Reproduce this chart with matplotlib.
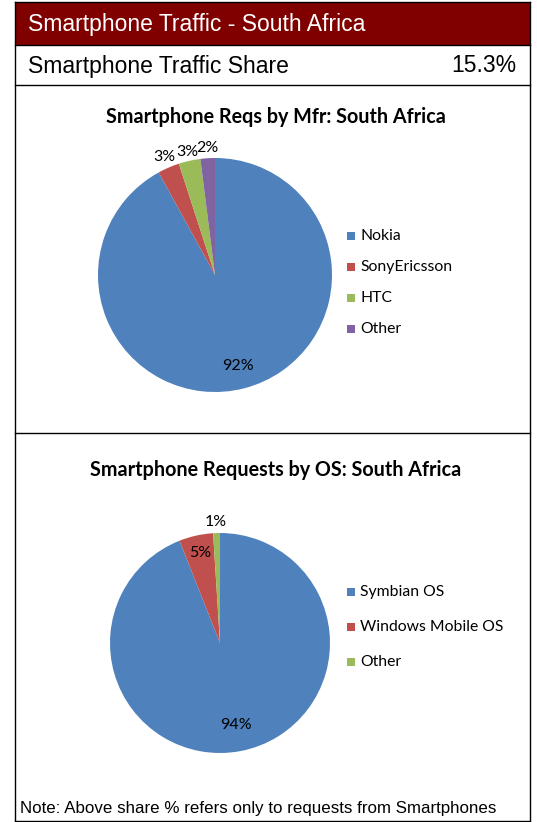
import numpy as np
import matplotlib
matplotlib.use('Agg')
import matplotlib.pyplot as plt
from matplotlib.patches import Rectangle
from matplotlib.lines import Line2D

# 数据
MFR_LABELS = ['Nokia', 'SonyEricsson', 'HTC', 'Other']
MFR_VALUES = [92, 3, 3, 2]
OS_LABELS = ['Symbian OS', 'Windows Mobile OS', 'Other']
OS_VALUES = [94, 5, 1]
TRAFFIC_SHARE = '15.3%'

COLORS = ['#4F81BD', '#C0504D', '#9BBB59', '#8064A2']
W, H = 537, 822


def fx(px):
    return px / W


def fy(py):
    return 1 - py / H


def draw_pie(fig, values, labels, cx, cy, r, label_dist, title, title_y, leg_x, leg_y0, leg_dy):
    ax = fig.add_axes([fx(cx - r), fy(cy + r), 2 * r / W, 2 * r / H])
    wedges, _, autotexts = ax.pie(values, colors=COLORS[:len(values)], startangle=90,
                                  counterclock=False, autopct='%1.0f%%',
                                  wedgeprops=dict(linewidth=0),
                                  textprops=dict(fontsize=11.5, family='Lato', color='black'))
    # 重新放置百分比标签
    for w, t, d in zip(wedges, autotexts, label_dist):
        ang = np.deg2rad((w.theta1 + w.theta2) / 2)
        t.set_position((d * np.cos(ang), d * np.sin(ang)))
    ax.set_xlim(-1, 1)
    ax.set_ylim(-1, 1)
    ax.axis('off')

    fig.text(fx(276), fy(title_y), title, ha='center', va='center',
             fontsize=14.2, fontweight='bold', family='Lato')

    for i, lab in enumerate(labels):
        y = leg_y0 + i * leg_dy
        fig.patches.append(Rectangle((fx(leg_x), fy(y + 4)), 8 / W, 8 / H,
                                     transform=fig.transFigure, facecolor=COLORS[i],
                                     edgecolor='none'))
        fig.text(fx(leg_x + 13), fy(y), lab, ha='left', va='center',
                 fontsize=11.3, family='Lato')


fig = plt.figure(figsize=(W / 100, H / 100), dpi=100)

# 标题栏
fig.patches.append(Rectangle((fx(15), fy(45)), (530 - 15) / W, 43 / H,
                             transform=fig.transFigure, facecolor='#800000', edgecolor='none'))
fig.text(fx(28), fy(24), 'Smartphone Traffic - South Africa', color='white',
         fontsize=16.5, family='Liberation Sans', va='center', ha='left')
fig.text(fx(28), fy(66), 'Smartphone Traffic Share', color='black',
         fontsize=16.5, family='Liberation Sans', va='center', ha='left')
fig.text(fx(516), fy(66), TRAFFIC_SHARE, color='black',
         fontsize=16.5, family='Liberation Sans', va='center', ha='right')

# 边框
lw = 1.0
for (x0, y0, x1, y1) in [(15, 2, 15, 821), (530, 2, 530, 821), (15, 2, 530, 2),
                         (15, 821, 530, 821), (15, 45, 530, 45), (15, 85, 530, 85),
                         (15, 433, 530, 433)]:
    fig.lines.append(Line2D([fx(x0), fx(x1)], [fy(y0), fy(y1)], transform=fig.transFigure,
                            color='black', linewidth=lw))

draw_pie(fig, MFR_VALUES, MFR_LABELS, 215, 275, 117, [0.8, 1.1, 1.08, 1.09],
         'Smartphone Reqs by Mfr: South Africa', 117, 347, 236, 31)
draw_pie(fig, OS_VALUES, OS_LABELS, 220, 643, 110, [0.76, 0.84, 1.1],
         'Smartphone Requests by OS: South Africa', 470, 347, 592, 35)

fig.text(fx(20), fy(808), 'Note: Above share % refers only to requests from Smartphones',
         fontsize=12.2, family='Liberation Sans', va='center', ha='left')

fig.savefig('out.png', dpi=100)
